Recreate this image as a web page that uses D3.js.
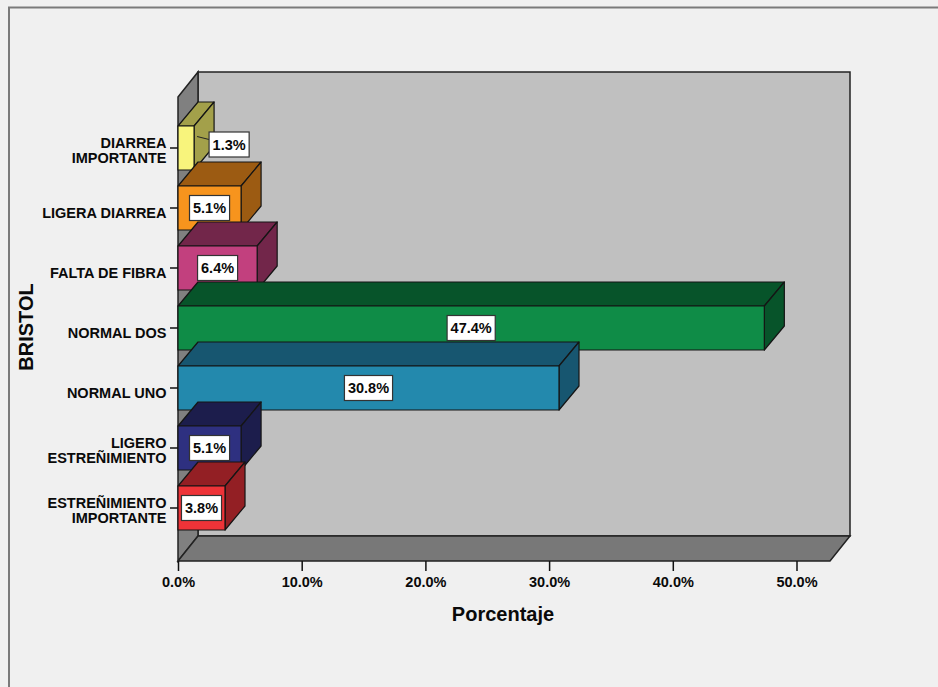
<!DOCTYPE html>
<html>
<head>
<meta charset="utf-8">
<script src="https://cdn.jsdelivr.net/npm/d3@7"></script>
<style>
    body { margin: 0; background: #f0f0f0; }
    svg { display: block; font-family: Arial, 'Liberation Sans', sans-serif; }
    .axis text { font-size: 14.5px; font-weight: bold; fill: #0a0a0a; }
    .axis line { stroke: #111; stroke-width: 1.5; }
</style>
</head>
<body>
<svg width="938" height="687"></svg>
<script>
// Data (percent of cases per Bristol type)
var categories = ['DIARREA\nIMPORTANTE', 'LIGERA DIARREA', 'FALTA DE FIBRA', 'NORMAL DOS',
    'NORMAL UNO', 'LIGERO\nESTREÑIMIENTO', 'ESTREÑIMIENTO\nIMPORTANTE'];
var values = [1.3, 5.1, 6.4, 47.4, 30.8, 5.1, 3.8];
var xTicks = [0, 10, 20, 30, 40, 50];

// Bar colours: front face and the darker top / side faces
var frontColors = ['#f8f47c', '#f7941d', '#c2407e', '#0f8c47', '#2389ad', '#2e3080', '#ee3338'];
var sideColors = ['#a3a04a', '#9c5b12', '#72264a', '#07542a', '#175670', '#1c1d4c', '#931f24'];

var svg = d3.select('svg');

// Plot frame (front plane) and 3D depth
var plot = {l: 178, r: 830, t: 97, b: 561};
var depth = {dx: 20, dy: -25};
var barDepth = {dx: 20, dy: -24};

// outer frame
svg.append('path')
    .attr('d', 'M9,690V7.5H940')
    .attr('fill', 'none')
    .attr('stroke', '#7a7a7a')
    .attr('stroke-width', 2);

// Scales
var xScale = d3.scaleLinear()
    .domain([0, 50])
    .range([plot.l, 796.5]);

var yScale = d3.scaleBand()
    .domain(categories)
    .range([118, 538])
    .paddingInner(16 / 60)
    .paddingOuter(8 / 60);

function poly(pts) {
    return 'M' + pts.map(function(p) { return p.join(','); }).join('L') + 'Z';
}

// Back wall
svg.append('rect')
    .attr('x', plot.l + depth.dx)
    .attr('y', plot.t + depth.dy)
    .attr('width', plot.r - plot.l)
    .attr('height', plot.b - plot.t)
    .attr('fill', '#c0c0c0')
    .attr('stroke', '#222')
    .attr('stroke-width', 1.5);

// Left wall
svg.append('path')
    .attr('d', poly([[plot.l, plot.t], [plot.l + depth.dx, plot.t + depth.dy],
        [plot.l + depth.dx, plot.b + depth.dy], [plot.l, plot.b]]))
    .attr('fill', '#808080')
    .attr('stroke', '#222')
    .attr('stroke-width', 1.5);

// Floor
svg.append('path')
    .attr('d', poly([[plot.l, plot.b], [plot.r, plot.b],
        [plot.r + depth.dx, plot.b + depth.dy], [plot.l + depth.dx, plot.b + depth.dy]]))
    .attr('fill', '#787878')
    .attr('stroke', '#222')
    .attr('stroke-width', 1.5);

// Axes
var xAxisG = svg.append('g')
    .attr('class', 'x axis')
    .attr('transform', 'translate(' + [0, plot.b] + ')')
    .call(d3.axisBottom(xScale)
        .tickValues(xTicks)
        .tickSize(10)
        .tickPadding(6)
        .tickFormat(function(d) { return d.toFixed(1) + '%'; }));
xAxisG.select('.domain').remove();

var yAxisG = svg.append('g')
    .attr('class', 'y axis')
    .attr('transform', 'translate(' + [plot.l, 0] + ')')
    .call(d3.axisLeft(yScale).tickSize(8).tickPadding(4));
yAxisG.select('.domain').remove();

// split the two-line category labels
yAxisG.selectAll('.tick text').each(function(d) {
    var lines = d.split('\n');
    var text = d3.select(this).text(null);
    if (lines.length === 1) {
        text.append('tspan').attr('x', -11.5).attr('y', 5).text(lines[0]);
    } else {
        text.attr('dy', null);
        text.append('tspan').attr('x', -11.5).attr('y', -0.5).text(lines[0]);
        text.append('tspan').attr('x', -11.5).attr('y', 14.5).text(lines[1]);
    }
});

// Bars (drawn top to bottom so nearer bars overlap)
var bars = svg.selectAll('.bar')
    .data(categories.map(function(c, i) { return {cat: c, value: values[i], i: i}; }))
    .enter()
    .append('g')
    .attr('class', 'bar');

bars.each(function(d) {
    var g = d3.select(this);
    var x0 = xScale(0), x1 = xScale(d.value);
    var y0 = yScale(d.cat), y1 = y0 + yScale.bandwidth();
    var dx = barDepth.dx, dy = barDepth.dy;

    g.append('path')
        .attr('d', poly([[x0, y0], [x0 + dx, y0 + dy], [x1 + dx, y0 + dy], [x1, y0]]))
        .attr('fill', sideColors[d.i]);
    g.append('path')
        .attr('d', poly([[x1, y0], [x1 + dx, y0 + dy], [x1 + dx, y1 + dy], [x1, y1]]))
        .attr('fill', sideColors[d.i]);
    g.append('rect')
        .attr('x', x0)
        .attr('y', y0)
        .attr('width', x1 - x0)
        .attr('height', y1 - y0)
        .attr('fill', frontColors[d.i]);
    g.selectAll('path, rect')
        .attr('stroke', '#151515')
        .attr('stroke-width', 1.2)
        .attr('stroke-linejoin', 'round');

    // value label in a white box
    var label = g.append('g');
    var txt = label.append('text')
        .attr('text-anchor', 'middle')
        .attr('font-size', 14.5)
        .attr('font-weight', 'bold')
        .attr('fill', '#0a0a0a')
        .attr('dy', '0.36em')
        .text(d.value.toFixed(1) + '%');
    var w = txt.node().getComputedTextLength() + 7;
    var h = 25;
    var cx = (x0 + x1) / 2, cy = (y0 + y1) / 2;
    if (x1 - x0 < w + 6) {
        // does not fit, put it to the right with a leader line
        cy = cy - 3.5;
        var left = x1 + 15;
        g.insert('line', 'g')
            .attr('x1', x1 + 3).attr('y1', cy - 8)
            .attr('x2', left).attr('y2', cy - 5)
            .attr('stroke', '#222');
        cx = left + w / 2;
    }
    label.attr('transform', 'translate(' + [cx, cy] + ')');
    label.insert('rect', 'text')
        .attr('x', -w / 2)
        .attr('y', -h / 2)
        .attr('width', w)
        .attr('height', h)
        .attr('fill', '#fff')
        .attr('stroke', '#333')
        .attr('stroke-width', 1.2);
});

// Axis titles
svg.append('text')
    .attr('x', 503)
    .attr('y', 621)
    .attr('text-anchor', 'middle')
    .attr('font-size', 20)
    .attr('font-weight', 'bold')
    .attr('fill', '#0a0a0a')
    .text('Porcentaje');

svg.append('text')
    .attr('transform', 'translate(33,327) rotate(-90)')
    .attr('text-anchor', 'middle')
    .attr('font-size', 20)
    .attr('font-weight', 'bold')
    .attr('fill', '#0a0a0a')
    .text('BRISTOL');
</script>
</body>
</html>
